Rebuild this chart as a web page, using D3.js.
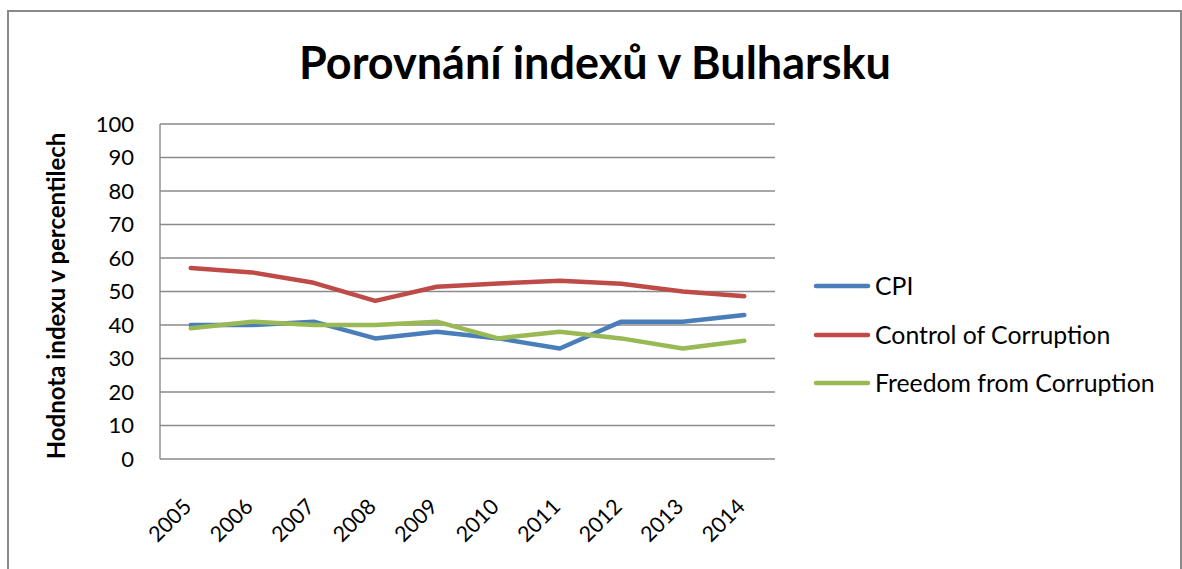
<!DOCTYPE html>
<html>
<head>
<meta charset="utf-8">
<script src="https://cdn.jsdelivr.net/npm/d3@7"></script>
<style>
  body { margin: 0; background: #fff; }
  svg { display: block; font-family: Lato, "Open Sans", sans-serif; }
</style>
</head>
<body>
<svg id="chart" width="1182" height="569"></svg>
<script>
// data
const years = ["2005", "2006", "2007", "2008", "2009", "2010", "2011", "2012", "2013", "2014"];
const cpi = [40, 40, 41, 36, 38, 36, 33, 41, 41, 43];
const controlOfCorruption = [57, 55.7, 52.6, 47.2, 51.4, 52.4, 53.2, 52.3, 50, 48.6];
const freedomFromCorruption = [39, 41, 40, 40, 41, 36, 38, 36, 33, 35.3];
const yTicks = [0, 10, 20, 30, 40, 50, 60, 70, 80, 90, 100];

const series = [
  { name: "CPI", values: cpi, color: "#4A7EBB" },
  { name: "Control of Corruption", values: controlOfCorruption, color: "#BE4B48" },
  { name: "Freedom from Corruption", values: freedomFromCorruption, color: "#98B954" }
];

const svg = d3.select("#chart");
const grey = "#8a8a8a";

// outer chart frame
svg.append("rect")
  .attr("x", 8).attr("y", 11)
  .attr("width", 1173).attr("height", 570)
  .attr("fill", "none")
  .attr("stroke", grey)
  .attr("stroke-width", 2);

const plot = { left: 160, right: 775, top: 124, bottom: 459 };

const x = d3.scaleBand()
  .domain(years)
  .range([plot.left, plot.right])
  .padding(0);
const y = d3.scaleLinear()
  .domain([0, 100])
  .range([plot.bottom, plot.top]);

const cx = d => x(d) + x.bandwidth() / 2;

// gridlines
svg.append("g")
  .selectAll("line")
  .data(yTicks)
  .join("line")
  .attr("x1", plot.left).attr("x2", plot.right)
  .attr("y1", d => y(d)).attr("y2", d => y(d))
  .attr("stroke", grey)
  .attr("stroke-width", 1.4);

// y axis line
svg.append("line")
  .attr("x1", plot.left).attr("x2", plot.left)
  .attr("y1", y(100)).attr("y2", y(0))
  .attr("stroke", grey)
  .attr("stroke-width", 1.4);

// y tick labels
svg.append("g")
  .selectAll("text")
  .data(yTicks)
  .join("text")
  .attr("x", 134)
  .attr("y", d => y(d))
  .attr("dy", "0.36em")
  .attr("text-anchor", "end")
  .attr("font-size", 22)
  .attr("fill", "#000")
  .text(d => d);

// x tick labels, rotated
svg.append("g")
  .selectAll("text")
  .data(years)
  .join("text")
  .attr("transform", d => `translate(${cx(d) + 2},508) rotate(-45)`)
  .attr("text-anchor", "end")
  .attr("font-size", 21.5)
  .attr("fill", "#000")
  .text(d => d);

// lines
const line = d3.line()
  .x((d, i) => cx(years[i]))
  .y(d => y(d));

svg.append("g")
  .selectAll("path")
  .data(series)
  .join("path")
  .attr("d", d => line(d.values))
  .attr("fill", "none")
  .attr("stroke", d => d.color)
  .attr("stroke-width", 4.5)
  .attr("stroke-linejoin", "round")
  .attr("stroke-linecap", "round");

// title
svg.append("text")
  .attr("x", 595)
  .attr("y", 79)
  .attr("text-anchor", "middle")
  .attr("font-size", 45)
  .attr("font-weight", "bold")
  .attr("fill", "#000")
  .text("Porovnání indexů v Bulharsku");

// y axis title
svg.append("text")
  .attr("transform", "translate(65,296) rotate(-90)")
  .attr("text-anchor", "middle")
  .attr("font-size", 24)
  .attr("font-weight", "bold")
  .attr("fill", "#000")
  .text("Hodnota indexu v percentilech");

// legend
const legendY = [286, 335, 383];
const legend = svg.append("g")
  .selectAll("g")
  .data(series)
  .join("g")
  .attr("transform", (d, i) => `translate(0,${legendY[i]})`);

legend.append("line")
  .attr("x1", 816).attr("x2", 868)
  .attr("stroke", d => d.color)
  .attr("stroke-width", 4.5)
  .attr("stroke-linecap", "round");

legend.append("text")
  .attr("x", 875)
  .attr("dy", "0.36em")
  .attr("font-size", 24.8)
  .attr("fill", "#000")
  .text(d => d.name);
</script>
</body>
</html>
